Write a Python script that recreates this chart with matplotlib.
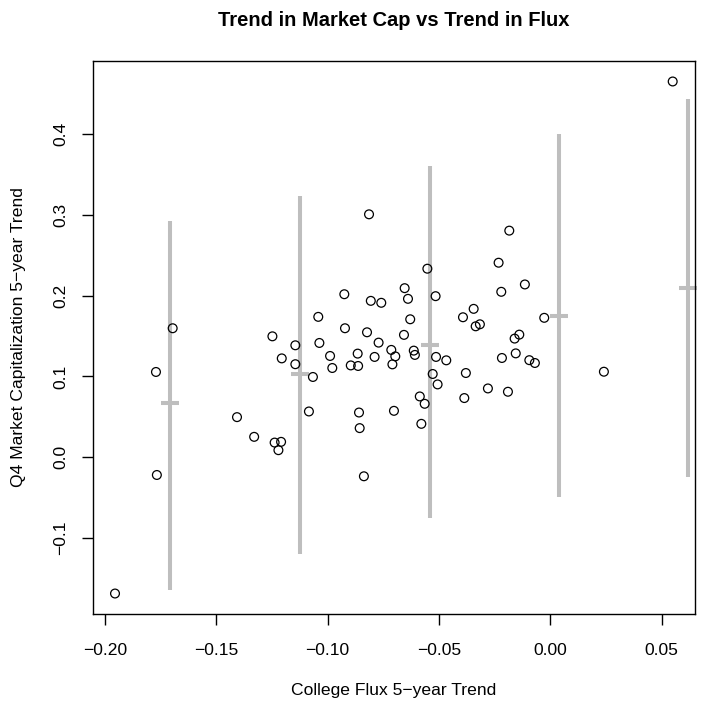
import numpy as np
import matplotlib.pyplot as plt

plt.rcParams['font.family'] = ['Liberation Sans', 'DejaVu Sans']

# college flux trend (x) and market cap trend (y), one per school
flux_trend = [-0.1696, -0.1248, -0.1145, -0.1042, -0.1037, -0.0989, -0.0925, -0.0922,
              -0.1206, -0.1771, -0.1767, -0.1955, -0.1407, -0.1330, -0.1238, -0.1209,
              -0.1221, -0.1145, -0.1066, -0.1084, -0.0979, -0.0896, -0.0814, -0.0184,
              -0.0232, -0.0552, -0.0114, -0.0220, -0.0654, -0.0639, -0.0515, -0.0806,
              -0.0759, -0.0344, -0.0392, -0.0629, -0.0027, -0.0335, -0.0316, -0.0823,
              -0.0657, -0.0139, -0.0160, -0.0771, -0.0714, -0.0613, -0.0608, -0.0865,
              -0.0155, -0.0789, -0.0696, -0.0513, -0.0467, -0.0217, -0.0094, -0.0863,
              -0.0709, -0.0069, -0.0528, -0.0506, -0.0379, -0.0586, -0.0564, -0.0386,
              -0.0280, -0.0190, -0.0859, -0.0856, -0.0702, -0.0579, -0.0837, 0.0241,
              0.0550]
cap_trend = [0.1596, 0.1496, 0.1385, 0.1737, 0.1414, 0.1253, 0.2017, 0.1596,
             0.1223, 0.1055, -0.0220, -0.1687, 0.0496, 0.0252, 0.0181, 0.0190,
             0.0087, 0.1151, 0.0993, 0.0566, 0.1104, 0.1136, 0.3006, 0.2804,
             0.2407, 0.2333, 0.2138, 0.2047, 0.2092, 0.1960, 0.1993, 0.1935,
             0.1911, 0.1836, 0.1732, 0.1707, 0.1725, 0.1620, 0.1645, 0.1546,
             0.1514, 0.1517, 0.1468, 0.1418, 0.1328, 0.1319, 0.1266, 0.1282,
             0.1285, 0.1241, 0.1248, 0.1241, 0.1199, 0.1228, 0.1201, 0.1129,
             0.1149, 0.1166, 0.1030, 0.0901, 0.1042, 0.0752, 0.0661, 0.0732,
             0.0851, 0.0810, 0.0553, 0.0360, 0.0574, 0.0413, -0.0236, 0.1058,
             0.4650]

# binned summaries: bin centre, mean and interval
bin_mid = [-0.1708, -0.1124, -0.0540, 0.0039, 0.0618]
bin_mean = [0.0670, 0.1033, 0.1385, 0.1744, 0.2092]
bin_low = [-0.1638, -0.1200, -0.0757, -0.0489, -0.0244]
bin_high = [0.2923, 0.3233, 0.3605, 0.3999, 0.4433]

W, H = 713, 703
fig = plt.figure(figsize=(W / 100, H / 100), dpi=100)
ax = fig.add_axes([92.7 / W, 1 - 614 / H, (695 - 92.7) / W, (614 - 61) / H])

gray = '#bebebe'
ax.vlines(bin_mid, bin_low, bin_high, color=gray, lw=2.9, clip_on=False)
hw = 0.004
ax.hlines(bin_mean, np.array(bin_mid) - hw, np.array(bin_mid) + hw, color=gray, lw=2.9,
          clip_on=False)
ax.scatter(flux_trend, cap_trend, s=40, facecolors='none', edgecolors='black',
           linewidths=0.9, zorder=3)

# R-style limits: range of the points padded by 4%
xs = np.array(flux_trend)
ys = np.array(cap_trend)
xr = xs.max() - xs.min()
yr = ys.max() - ys.min()
ax.set_xlim(xs.min() - 0.04 * xr, xs.max() + 0.04 * xr)
ax.set_ylim(ys.min() - 0.04 * yr, ys.max() + 0.04 * yr)

ax.set_xticks([-0.20, -0.15, -0.10, -0.05, 0.00, 0.05])
ax.set_xticklabels(['\u22120.20', '\u22120.15', '\u22120.10', '\u22120.05', '0.00', '0.05'])
ax.set_yticks([-0.1, 0.0, 0.1, 0.2, 0.3, 0.4])
ax.set_yticklabels(['\u22120.1', '0.0', '0.1', '0.2', '0.3', '0.4'], rotation=90, va='center')
ax.tick_params(direction='out', length=8, width=1, labelsize=12.6)
ax.tick_params(axis='x', pad=13)
ax.tick_params(axis='y', pad=9.6)
for s in ax.spines.values():
    s.set_linewidth(1)

ax.set_xlabel('College Flux 5\u2212year Trend', fontsize=12.6, labelpad=18)
ax.set_ylabel('Q4 Market Capitalization 5\u2212year Trend', fontsize=12.6, labelpad=19.6)
fig.text((92.7 + 695) / 2 / W, 1 - 21 / H, 'Trend in Market Cap vs Trend in Flux',
         ha='center', va='center', fontsize=14.5, fontweight='bold')

fig.savefig('out.png', dpi=100)
